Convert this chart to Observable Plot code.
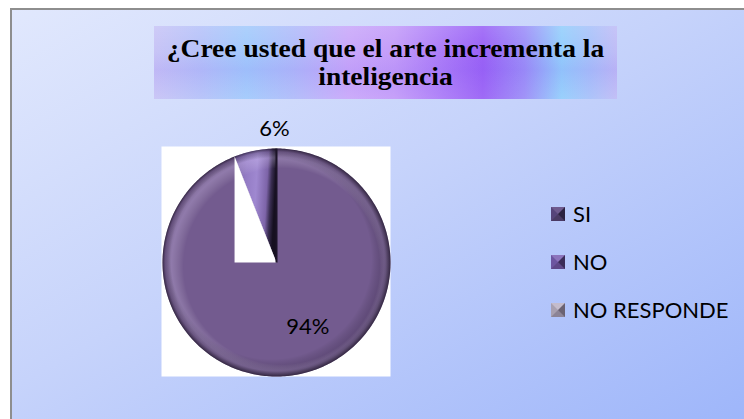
<!DOCTYPE html>
<html>
<head>
<meta charset="utf-8">
<script src="https://cdn.jsdelivr.net/npm/d3@7"></script>
<script src="https://cdn.jsdelivr.net/npm/@observablehq/plot@0.6"></script>
<style>
  html, body { margin: 0; padding: 0; background: #fff; }
  #chart { position: relative; width: 744px; height: 419px; overflow: hidden; background: #fff; }
  #panel { position: absolute; left: 10px; top: 8px; width: 740px; height: 420px;
    border-left: 2px solid #8e8e8e; border-top: 2px solid #8e8e8e;
    background: linear-gradient(to bottom right, #e1e8fd 0%, #c6d3fb 45%, #9db5fa 100%); }
  #titlebox { position: absolute; left: 154px; top: 26px; width: 463px; height: 73px;
    background:
      linear-gradient(180deg, rgba(255,255,255,0.12) 0%, rgba(255,255,255,0) 35%, rgba(120,80,240,0.10) 60%, rgba(255,255,255,0.05) 100%),
      linear-gradient(90deg, #c8c4f6 0%, #b6c2f9 10%, #a2cafc 20%, #b0bcfa 30%, #c9a8fa 42%, #c39cf9 52%, #aa7af8 63%, #9a62f6 71%, #9c8ef8 80%, #94cefc 88%, #a8c2fa 94%, #c0bcf6 100%); }
  #title { position: absolute; left: 0; right: 0; top: 9px; text-align: center;
    font: bold 25px/28px "Liberation Serif", "Times New Roman", serif; color: #000;
    transform: scaleX(1.1); transform-origin: 50% 50%; }
  #pie { position: absolute; left: 161px; top: 110px; }
  .lg-row { position: absolute; left: 551px; height: 24px; font: 22px/22px Lato, sans-serif; color: #000; white-space: nowrap; }
  .lg-sw { position: absolute; left: 0; top: 4px; width: 0; height: 0; border-style: solid; border-width: 7px; }
  .lg-tx { position: absolute; left: 22px; top: 0; }
</style>
</head>
<body>
<div id="chart">
  <div id="panel"></div>
  <div id="titlebox"><div id="title">¿Cree usted que el arte incrementa la<br>inteligencia</div></div>
  <div id="pie"></div>
</div>
<script>
// ---- data ----
const categories = ["SI", "NO", "NO RESPONDE"];
const values = [94, 6, 0];
const sliceColors = ["#735b8f", "url(#noGrad)", "#9e96a8"];
// legend swatch bevel colours: top, right, bottom, left
const swatchBevels = [
  ["#6f5a8e", "#2c2240", "#4a3a64", "#56447a"],
  ["#8c74bc", "#3a2c58", "#5e4888", "#6c56a0"],
  ["#c4bccc", "#6a6272", "#8c8496", "#a8a0b0"]
];

// ---- build pie geometry from the data ----
const rows = categories.map((c, i) => ({cat: c, value: values[i], fill: sliceColors[i], idx: i}));
const arcs = d3.pie().sort(null).value(d => d.value)(rows);
const pt = (a, r = 1) => ({x: Math.sin(a) * r, y: Math.cos(a) * r});
function arcPoints(a0, a1) {
  const n = Math.max(2, Math.ceil((a1 - a0) / (Math.PI / 180)));
  const pts = [{x: 0, y: 0}];
  for (let k = 0; k <= n; k++) pts.push(pt(a0 + (a1 - a0) * k / n));
  pts.push({x: 0, y: 0});
  return pts;
}
const visible = arcs.filter(a => a.data.value > 0);
const circle = arcPoints(0, 2 * Math.PI).slice(1, -1);

// the gap artefact beside the small slice (from the reference rendering)
const small = visible.find(a => a.data.cat === "NO");
const gapCorner = pt(small.startAngle);
const gap = [{x: 0, y: 0}, gapCorner, {x: gapCorner.x, y: 0}, {x: 0, y: 0}];

const mid = a => (a.startAngle + a.endAngle) / 2;
const bigLabel = visible.filter(a => a.data.value >= 50).map(a => ({...pt(mid(a), 0.62), t: a.data.value + "%"}));
const smallLabel = visible.filter(a => a.data.value < 50).map(a => ({...pt(mid(a), 1.17), t: a.data.value + "%"}));
const seamEnd = pt(arcs[0].startAngle);
const seam = [{x1: 0, y1: 0, x2: seamEnd.x, y2: seamEnd.y}];

function defs() {
  const d = d3.create("svg:defs");
  const ng = d.append("linearGradient").attr("id", "noGrad").attr("x1", 0).attr("y1", 0).attr("x2", 1).attr("y2", 0.15);
  [[0, "#7a62a6"], [0.3, "#937bc4"], [0.55, "#9f88d0"], [0.8, "#7d64a8"], [0.9, "#3a2e52"], [1, "#161020"]]
    .forEach(([o, c]) => ng.append("stop").attr("offset", o).attr("stop-color", c));
  const rim = d.append("radialGradient").attr("id", "rimDark").attr("cx", 0.5).attr("cy", 0.5).attr("r", 0.5).attr("fx", 0.3).attr("fy", 0.36);
  [[0, "rgba(0,0,0,0)"], [0.88, "rgba(0,0,0,0)"], [0.96, "rgba(30,15,45,0.25)"], [1, "rgba(10,5,15,0.6)"]]
    .forEach(([o, c]) => rim.append("stop").attr("offset", o).attr("stop-color", c));
  const hl = d.append("radialGradient").attr("id", "rimLight").attr("cx", 0.5).attr("cy", 0.5).attr("r", 0.5).attr("fx", 0.66).attr("fy", 0.62);
  [[0, "rgba(255,255,255,0)"], [0.86, "rgba(255,255,255,0)"], [0.94, "rgba(230,215,255,0.25)"], [1, "rgba(255,255,255,0)"]]
    .forEach(([o, c]) => hl.append("stop").attr("offset", o).attr("stop-color", c));
  return d.node();
}

const pie = Plot.plot({
  width: 229, height: 266,
  marginTop: 36, marginRight: 0, marginBottom: 0, marginLeft: 0,
  x: {domain: [-1.009, 1.0], axis: null},
  y: {domain: [-1.0, 1.018], axis: null},
  style: {background: "transparent", overflow: "visible"},
  marks: [
    defs,
    Plot.frame({fill: "white", stroke: "none"}),
    ...visible.map(a => Plot.line(arcPoints(a.startAngle, a.endAngle), {x: "x", y: "y", fill: a.data.fill, stroke: "none"})),
    Plot.line(circle, {x: "x", y: "y", fill: "url(#rimLight)", stroke: "none"}),
    Plot.line(circle, {x: "x", y: "y", fill: "url(#rimDark)", stroke: "none"}),
    Plot.line(gap, {x: "x", y: "y", fill: "white", stroke: "none"}),
    Plot.link(seam, {x1: "x1", y1: "y1", x2: "x2", y2: "y2", stroke: "#1c1428", strokeWidth: 2}),
    Plot.text(bigLabel, {x: "x", y: "y", text: "t", dx: 18, dy: -5, fontFamily: "Lato", fontSize: 22, fill: "#000"}),
    Plot.text(smallLabel, {x: "x", y: "y", text: "t", dx: 23, dy: -3, fontFamily: "Lato", fontSize: 22, fill: "#000"})
  ]
});
document.getElementById("pie").appendChild(pie);

// ---- legend ----
const chart = document.getElementById("chart");
categories.forEach((c, i) => {
  const row = document.createElement("div");
  row.className = "lg-row";
  row.style.top = (203 + i * 48) + "px";
  const sw = document.createElement("div");
  sw.className = "lg-sw";
  sw.style.borderColor = swatchBevels[i].join(" ");
  const tx = document.createElement("div");
  tx.className = "lg-tx";
  tx.textContent = c;
  row.appendChild(sw); row.appendChild(tx);
  chart.appendChild(row);
});
</script>
</body>
</html>
